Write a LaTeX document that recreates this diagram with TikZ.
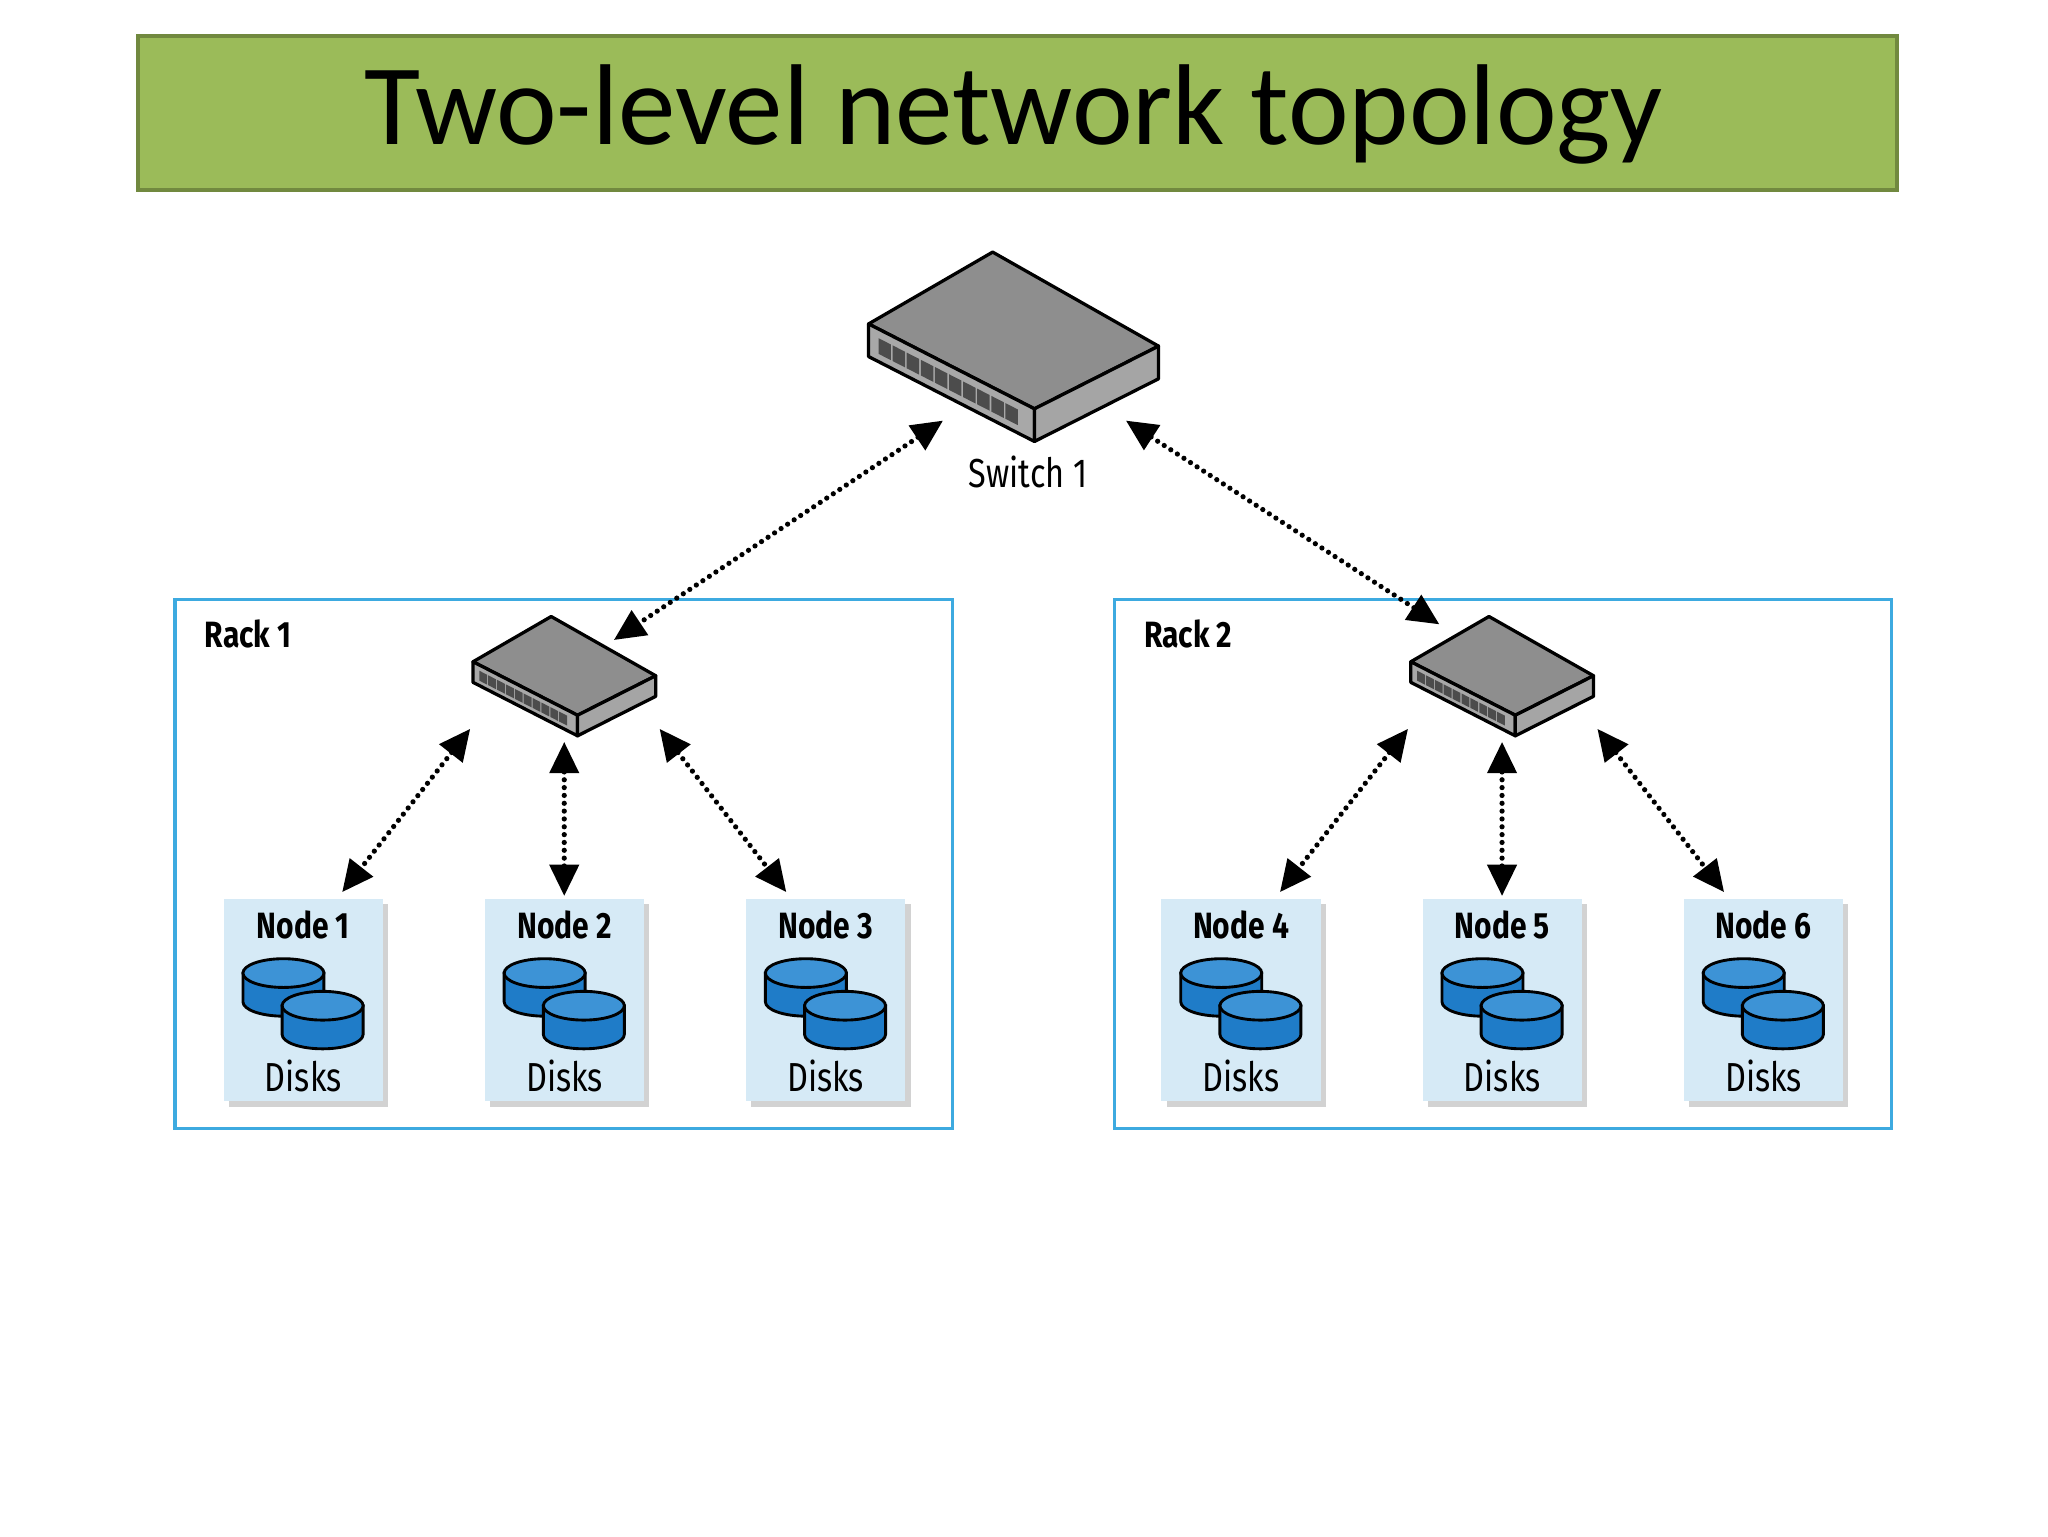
\documentclass[tikz,border=0pt]{standalone}
\usepackage{fontspec}
\setmainfont{Fira Sans}
\newfontfamily\titlefont{Carlito}
\usetikzlibrary{arrows.meta,calc,shadows}
\definecolor{tgreen}{HTML}{9BBB59}
\definecolor{tgreend}{HTML}{71893F}
\definecolor{rackblue}{HTML}{3DAAE0}
\definecolor{nodefill}{HTML}{D6EAF6}
\definecolor{diskblue}{HTML}{1F7CC8}
\definecolor{disktop}{HTML}{3D93D6}
\definecolor{swtop}{HTML}{8E8E8E}
\definecolor{swside}{HTML}{A8A8A8}
\tikzset{
  conn/.style={line width=4pt, dash pattern=on 0pt off 6pt, line cap=round, {Triangle[length=24pt,width=22pt]}-{Triangle[length=24pt,width=22pt]}},
  rack/.style={draw=rackblue, line width=2.5pt},
  box/.style={fill=nodefill, minimum width=122pt, minimum height=155pt, inner sep=0pt, drop shadow={shadow xshift=4pt,shadow yshift=-4pt,opacity=0.35}},
  lbl/.style={font=\bfseries\fontsize{28}{30}\selectfont, xscale=0.82},
  dlbl/.style={font=\fontsize{31}{32}\selectfont, xscale=0.8},
  pics/switch/.style={code={
    \coordinate (T) at (0,0); \coordinate (L) at (-95,55); \coordinate (F) at (32,120); \coordinate (R) at (127,72);
    \draw[line width=2.5pt, line join=round, fill=swtop] (T)--(L)--(F)--(R)--cycle;
    \draw[line width=2.5pt, line join=round, fill=swside] (L)--(F)--($(F)+(0,25)$)--($(L)+(0,25)$)--cycle;
    \draw[line width=2.5pt, line join=round, fill=swtop!80!white] (F)--(R)--($(R)+(0,25)$)--($(F)+(0,25)$)--cycle;
    \foreach \i in {0,...,9}{
      \fill[black!70] ($(L)!0.06+\i*0.085!(F)+(0,7)$) -- ($(L)!0.06+\i*0.085+0.075!(F)+(0,7)$) -- ($(L)!0.06+\i*0.085+0.075!(F)+(0,19)$) -- ($(L)!0.06+\i*0.085!(F)+(0,19)$) -- cycle;}
  }},
  pics/disks/.style={code={
    \foreach \dx/\dy in {0/0,30/25}{
      \draw[line width=2.2pt, fill=diskblue] (\dx-31,\dy) -- (\dx-31,\dy+22) arc[start angle=180,end angle=0,x radius=31,y radius=11] -- (\dx+31,\dy) -- cycle;
      \draw[line width=2.2pt, fill=disktop] (\dx,\dy) ellipse[x radius=31,y radius=11];
    }
  }}
}
\begin{document}
\begin{tikzpicture}[x=1pt,y=-1pt]
\useasboundingbox (0,0) rectangle (1568,1176);
\fill[white] (0,0) rectangle (1568,1176);
% title
\node[draw=tgreend, line width=3pt, fill=tgreen, minimum width=1347pt, minimum height=118pt, anchor=north west, inner sep=0pt] (title) at (104,26) {};
\node[font=\titlefont\fontsize{88}{90}\selectfont] (titletext) at (776,88) {Two-level network topology};
% racks
\draw[rack] (134,459) rectangle (729,864);
\draw[rack] (853,459) rectangle (1448,864);
\node[lbl, anchor=west] (r1) at (154,485) {Rack 1};
\node[lbl, anchor=west] (r2) at (873,485) {Rack 2};
% switches
\pic at (760,193) {switch};
\node[font=\fontsize{31}{32}\selectfont, xscale=0.8] (s1) at (787,361) {Switch 1};
\pic[scale=0.63] at (422,472) {switch};
\pic[scale=0.63] at (1140,472) {switch};
\coordinate (m1) at (722,322); \coordinate (m2) at (862,322);
\coordinate (a1) at (470,490); \coordinate (a2) at (1102,478);
\draw[conn] (m1) -- (a1);
\draw[conn] (m2) -- (a2);
% nodes
\foreach \n/\x in {1/171,2/371,3/571,4/889,5/1089,6/1289}{
  \node[box, anchor=north west] (n\n) at (\x,688) {};
  \node[lbl] (t\n) at ($(n\n.north)+(0,20)$) {Node \n};
  \pic at ($(n\n.north west)+(46,745-688)$) {disks};
  \node[dlbl] (d\n) at ($(n\n.south)+(0,-20)$) {Disks};
}
\foreach \o/\k in {0/0,718/1}{
  \coordinate (p1\k) at (360+\o,558); \coordinate (q1\k) at (262+\o,683);
  \coordinate (p2\k) at (432+\o,568); \coordinate (q2\k) at (432+\o,686);
  \coordinate (p3\k) at (505+\o,558); \coordinate (q3\k) at (602+\o,683);
  \draw[conn] (p1\k) -- (q1\k);
  \draw[conn] (p2\k) -- (q2\k);
  \draw[conn] (p3\k) -- (q3\k);
}
\end{tikzpicture}
\end{document}
